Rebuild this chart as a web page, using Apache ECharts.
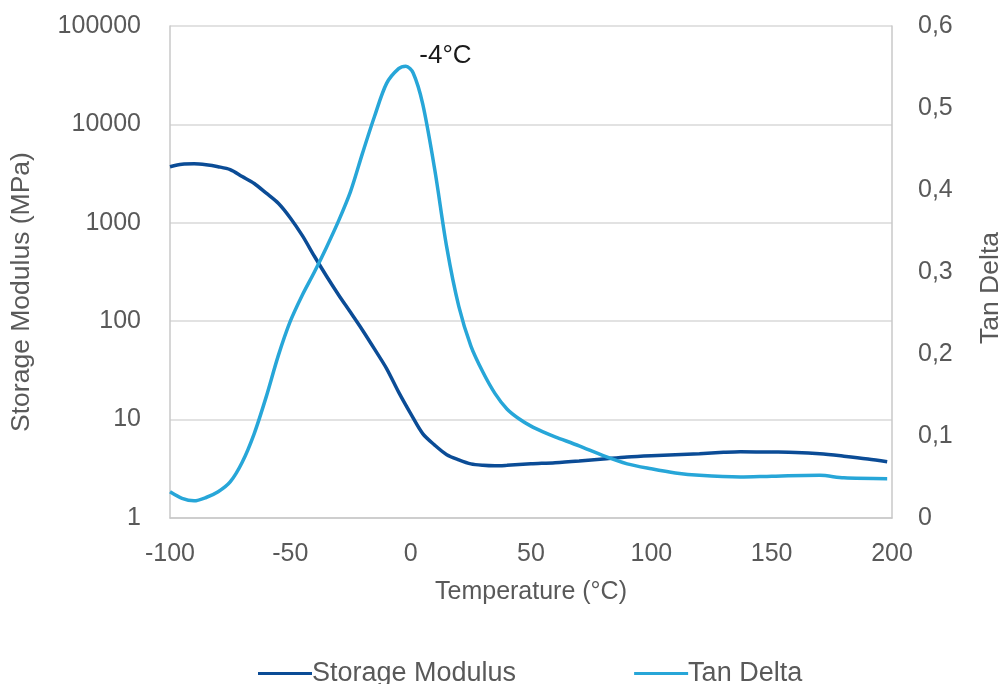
<!DOCTYPE html>
<html>
<head>
<meta charset="utf-8">
<script src="https://cdn.jsdelivr.net/npm/echarts@6/dist/echarts.min.js"></script>
<style>html,body{margin:0;padding:0;background:#fff;}#c{width:1003px;height:684px;}</style>
</head>
<body>
<div id="c"></div>
<script>
const xTicks = [-100, -50, 0, 50, 100, 150, 200];
const modulusTemp = [-100, -95, -90, -85, -80, -75, -70, -65, -60, -55, -50, -45, -40, -35, -30, -25, -20, -15, -10, -5, 0, 5, 10, 15, 20, 25, 30, 35, 40, 50, 60, 70, 80, 90, 100, 110, 120, 130, 137, 150, 160, 170, 180, 190, 198];
const modulusValues = [3715, 3940, 3980, 3890, 3715, 3470, 2950, 2510, 2000, 1580, 1120, 740, 457, 288, 186, 123, 81, 52, 33, 19, 11.5, 7.2, 5.5, 4.4, 3.9, 3.55, 3.43, 3.39, 3.43, 3.55, 3.65, 3.8, 3.98, 4.17, 4.3, 4.4, 4.5, 4.65, 4.72, 4.68, 4.64, 4.5, 4.25, 3.98, 3.73];
const tanTemp = [-100, -95, -90, -85, -80, -75, -70, -65, -60, -55, -50, -45, -40, -35, -30, -25, -20, -15, -10, -5, -2, 1, 5, 10, 15, 20, 25, 30, 35, 40, 45, 50, 55, 60, 70, 80, 90, 100, 110, 120, 137, 150, 170, 180, 198];
const tanValues = [0.032, 0.024, 0.021, 0.025, 0.032, 0.044, 0.068, 0.103, 0.148, 0.198, 0.240, 0.272, 0.300, 0.330, 0.362, 0.398, 0.445, 0.490, 0.530, 0.548, 0.551, 0.543, 0.505, 0.425, 0.330, 0.258, 0.210, 0.178, 0.152, 0.133, 0.121, 0.112, 0.105, 0.099, 0.088, 0.076, 0.066, 0.060, 0.055, 0.052, 0.050, 0.051, 0.052, 0.049, 0.048];
const peakLabel = '-4°C';
const peakPoint = [-3, 0.550];

const darkBlue = '#0B4C96';
const lightBlue = '#27A6D8';
const grey = '#595959';
const font = 'Liberation Sans, Arial, sans-serif';

const chart = echarts.init(document.getElementById('c'));
chart.setOption({
  animation: false,
  textStyle: { fontFamily: font },
  grid: { left: 170, right: 111, top: 26, bottom: 166, containLabel: false, outerBoundsMode: 'none' },
  legend: {
    top: 655,
    left: 253,
    icon: 'rect',
    itemWidth: 54,
    itemHeight: 3,
    itemGap: 118,
    textStyle: { fontSize: 27, color: grey, fontFamily: font, padding: [0, 0, 0, -5] },
    data: ['Storage Modulus', 'Tan Delta']
  },
  xAxis: {
    type: 'value',
    min: -100, max: 200, interval: 50,
    name: 'Temperature (°C)',
    nameLocation: 'middle',
    nameGap: 62,
    nameTextStyle: { fontSize: 25, color: grey },
    axisLine: { show: true, onZero: false, lineStyle: { color: '#C8C8C8', width: 1.5 } },
    axisTick: { show: false },
    splitLine: { show: false },
    axisLabel: { fontSize: 25, color: grey, margin: 24, formatter: v => String(v) }
  },
  yAxis: [
    {
      type: 'log', logBase: 10, min: 1, max: 100000,
      name: 'Storage Modulus (MPa)',
      nameLocation: 'middle',
      nameGap: 135,
      nameRotate: 90,
      nameTextStyle: { fontSize: 26.5, color: grey, padding: [0, 40, 0, 0] },
      axisLine: { show: true, onZero: false, lineStyle: { color: '#C8C8C8', width: 1.5 } },
      axisTick: { show: false },
      splitLine: { show: true, lineStyle: { color: '#D9D9D9', width: 1.5 } },
      axisLabel: { fontSize: 25, color: grey, margin: 29, formatter: v => String(Math.round(v)) }
    },
    {
      type: 'value', min: 0, max: 0.6, interval: 0.1,
      name: 'Tan Delta',
      nameLocation: 'middle',
      nameGap: 85,
      nameRotate: 90,
      nameTextStyle: { fontSize: 26.5, color: grey, padding: [0, 32, 0, 0] },
      axisLine: { show: true, onZero: false, lineStyle: { color: '#C8C8C8', width: 1.5 } },
      axisTick: { show: false },
      splitLine: { show: false },
      axisLabel: { fontSize: 25, color: grey, margin: 26,
        formatter: v => (Math.round(v * 10) / 10).toString().replace('.', ',') }
    }
  ],
  series: [
    {
      name: 'Storage Modulus',
      type: 'line',
      yAxisIndex: 0,
      smooth: 0.3,
      showSymbol: false,
      lineStyle: { color: darkBlue, width: 3.5 },
      itemStyle: { color: darkBlue },
      data: modulusTemp.map((t, i) => [t, modulusValues[i]])
    },
    {
      name: 'Tan Delta',
      type: 'line',
      yAxisIndex: 1,
      smooth: 0.3,
      showSymbol: false,
      lineStyle: { color: lightBlue, width: 3.5 },
      itemStyle: { color: lightBlue },
      data: tanTemp.map((t, i) => [t, tanValues[i]]),
      markPoint: {
        symbol: 'circle',
        symbolSize: 0,
        data: [{ coord: peakPoint, value: peakLabel }],
        label: { show: true, formatter: peakLabel, color: '#1a1a1a', fontSize: 26,
          fontFamily: font, offset: [42, -11] }
      }
    }
  ]
});
</script>
</body>
</html>
